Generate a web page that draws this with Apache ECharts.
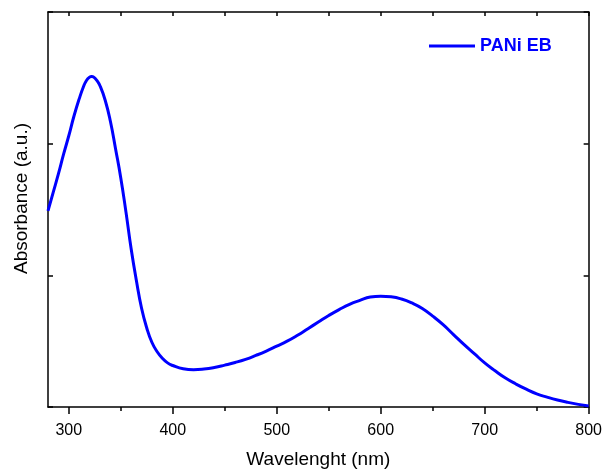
<!DOCTYPE html>
<html>
<head>
<meta charset="utf-8">
<script src="https://cdn.jsdelivr.net/npm/echarts@6/dist/echarts.min.js"></script>
<style>html,body{margin:0;padding:0;background:#fff}#c{width:605px;height:474px}</style>
</head>
<body>
<div id="c"></div>
<script>
var wavelength = [280,285,290,295,300,305,310,314,317,320,322,324,327,330,335,340,345,350,355,360,365,370,375,380,385,390,395,400,410,420,430,440,450,460,470,480,490,500,510,520,530,540,550,560,570,580,590,600,610,620,630,640,650,660,670,680,690,700,710,720,730,740,750,760,770,780,790,800];
var absorbance = [1.49,1.63,1.77,1.92,2.06,2.21,2.34,2.43,2.48,2.505,2.51,2.505,2.48,2.44,2.33,2.17,1.96,1.74,1.48,1.20,0.96,0.75,0.60,0.49,0.42,0.37,0.335,0.315,0.29,0.283,0.288,0.30,0.318,0.338,0.362,0.392,0.425,0.462,0.50,0.545,0.595,0.645,0.695,0.74,0.78,0.81,0.835,0.842,0.837,0.82,0.79,0.748,0.69,0.625,0.55,0.475,0.405,0.335,0.275,0.22,0.175,0.135,0.10,0.075,0.053,0.035,0.02,0.008];
var xMajorTicks = [300,400,500,600,700,800];
var xMinorTicks = [350,450,550,650,750];
var xAllTicks = [300,350,400,450,500,550,600,650,700,750,800];
var seriesName = 'PANi EB';
var xName = 'Wavelenght (nm)';
var yName = 'Absorbance (a.u.)';

var points = wavelength.map(function (w, i) { return [w, absorbance[i]]; });
var font = 'Arial, "Liberation Sans", sans-serif';
var lineStyle = { color: '#000', width: 1.5 };

var chart = echarts.init(document.getElementById('c'), null, { renderer: 'canvas' });
chart.setOption({
  animation: false,
  backgroundColor: '#fff',
  grid: { left: 48, right: 11, top: 12, bottom: 61, containLabel: false },
  legend: {
    left: 424, top: 32,
    icon: 'rect', itemWidth: 46, itemHeight: 3,
    textStyle: { color: '#0000ff', fontWeight: 'bold', fontSize: 18, fontFamily: font },
    data: [seriesName]
  },
  xAxis: [
    {
      type: 'value', position: 'bottom', min: 280, max: 800,
      name: xName, nameLocation: 'middle', nameGap: 43,
      nameTextStyle: { color: '#000', fontSize: 19, fontFamily: font },
      axisLine: { show: true, onZero: false, lineStyle: lineStyle },
      axisTick: { show: true, inside: false, length: 7, customValues: xMajorTicks, lineStyle: lineStyle },
      axisLabel: { show: true, customValues: xMajorTicks, margin: 16, color: '#000', fontSize: 16, fontFamily: font },
      splitLine: { show: false }
    },
    {
      type: 'value', position: 'bottom', min: 280, max: 800,
      axisLine: { show: false, onZero: false },
      axisTick: { show: true, inside: false, length: 4, customValues: xMinorTicks, lineStyle: lineStyle },
      axisLabel: { show: false },
      splitLine: { show: false }
    },
    {
      type: 'value', position: 'top', min: 280, max: 800,
      axisLine: { show: true, onZero: false, lineStyle: lineStyle },
      axisTick: { show: true, inside: true, length: 4, customValues: xAllTicks, lineStyle: lineStyle },
      axisLabel: { show: false },
      splitLine: { show: false }
    }
  ],
  yAxis: [
    {
      type: 'value', position: 'left', min: 0, max: 3, interval: 1,
      name: yName, nameLocation: 'middle', nameGap: 17,
      nameTextStyle: { color: '#000', fontSize: 19, fontFamily: font, padding: [0, 0, 0, 22] },
      axisLine: { show: true, onZero: false, lineStyle: lineStyle },
      axisTick: { show: true, inside: true, length: 5, lineStyle: lineStyle },
      axisLabel: { show: false },
      splitLine: { show: false }
    },
    {
      type: 'value', position: 'right', min: 0, max: 3, interval: 1,
      axisLine: { show: true, onZero: false, lineStyle: lineStyle },
      axisTick: { show: true, inside: true, length: 5, lineStyle: lineStyle },
      axisLabel: { show: false },
      splitLine: { show: false }
    }
  ],
  series: [{
    name: seriesName,
    type: 'line',
    xAxisIndex: 0, yAxisIndex: 0,
    data: points,
    smooth: 0.5,
    showSymbol: false,
    symbol: 'none',
    lineStyle: { color: '#0000ff', width: 3 },
    itemStyle: { color: '#0000ff' }
  }]
});
</script>
</body>
</html>
